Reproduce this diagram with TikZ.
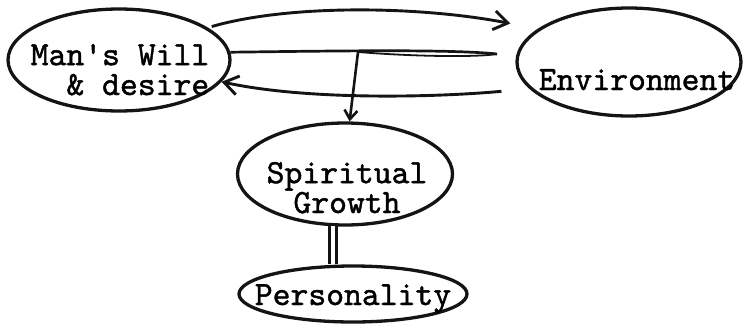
\documentclass[tikz,border=0pt]{standalone}
\usepackage{fontspec}
\usepackage{tikz}
\usetikzlibrary{arrows.meta,shapes.geometric}
\newfontfamily\typewriter{lmmono10-regular.otf}[FakeBold=1.3]
\definecolor{Ink}{HTML}{141414}
% text set inside a blob, moved by (dx,dy) from its centre
\newcommand{\blobtext}[3]{\makebox[0pt]{\hspace{#1}\hspace{#1}\raisebox{#2}[0pt][0pt]{#3}}}
\tikzset{
  every picture/.style={line width=3.3pt},
  blob/.style={
    ellipse,
    draw=Ink,
    inner sep=0pt,
    font=\typewriter\fontsize{34}{29}\selectfont
  },
  flowarrow/.style={draw=Ink, line width=2.9pt, -{Straight Barb[length=14pt,width=19pt]}},
  droparrow/.style={draw=Ink, line width=2.6pt, -{Straight Barb[length=9pt,width=13pt]}},
  loopline/.style={draw=Ink, line width=2.7pt},
  linkline/.style={draw=Ink, line width=2.4pt, double=white, double distance=4.5pt}
}
\begin{document}
\begin{tikzpicture}[x=1pt,y=-1pt]
  \useasboundingbox (0,0) rectangle (743,324);

  \node[blob,minimum width=222pt,minimum height=102pt] (will) at (119,60)
    {\blobtext{1pt}{-35pt}{\begin{tabular}[b]{@{}r@{}}Man\textquotesingle s Will\\\& desire\end{tabular}}};
  \node[blob,minimum width=224pt,minimum height=108pt] (env) at (629,62)
    {\blobtext{8pt}{-28pt}{Environment}};
  \node[blob,minimum width=215pt,minimum height=102pt] (growth) at (345,174)
    {\blobtext{2pt}{-39pt}{\begin{tabular}[b]{@{}c@{}}Spiritual\\Growth\end{tabular}}};
  \node[blob,minimum width=228pt,minimum height=56pt] (pers) at (353,294)
    {\blobtext{0pt}{-11pt}{Personality}};

  \coordinate (looptip) at (497,54);
  \coordinate (split) at (358,52);

  \draw[flowarrow,shorten <=4pt,shorten >=28pt] (will.20) .. controls (290,4) and (420,6) .. (env.160);
  \draw[loopline] (will.4) .. controls (330,51) and (450,49) .. (looptip);
  \draw[loopline,line width=1.8pt] (looptip) .. controls (480,57) and (420,57) .. (split);
  \draw[droparrow] (split) -- (growth.85);
  \draw[flowarrow,shorten <=28pt] (env.195) .. controls (440,97) and (310,101) .. (will.-12);

  \draw[linkline] (growth.257) -- (growth.257 |- pers.north);
\end{tikzpicture}
\end{document}
